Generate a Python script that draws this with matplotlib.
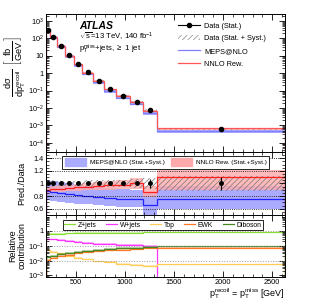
import numpy as np
import matplotlib
matplotlib.use('Agg')
import matplotlib.pyplot as plt
from matplotlib.lines import Line2D
from matplotlib.patches import Patch
from matplotlib.ticker import LogLocator, MultipleLocator, NullFormatter, FixedLocator

plt.rcParams['font.family'] = ['Liberation Sans', 'DejaVu Sans']
plt.rcParams['mathtext.fontset'] = 'custom'
plt.rcParams['mathtext.rm'] = 'Liberation Sans'
plt.rcParams['mathtext.it'] = 'Liberation Sans:italic'
plt.rcParams['mathtext.default'] = 'regular'
plt.rcParams['hatch.linewidth'] = 0.5

# bin edges of p_T^recoil [GeV]
edges = [200, 240, 310, 390, 480, 570, 680, 790, 910, 1050, 1190, 1330, 2630]
# measured cross section [fb/GeV]
xsec = [300, 125, 38, 11, 3.4, 1.1, 0.37, 0.12, 0.049, 0.023, 0.0078, 0.0006]
stat_rel = [0.005, 0.005, 0.006, 0.007, 0.008, 0.01, 0.012, 0.015, 0.02, 0.03, 0.07, 0.11]
syst_rel = [0.05, 0.05, 0.045, 0.045, 0.045, 0.05, 0.05, 0.055, 0.06, 0.07, 0.09, 0.12]

# predictions / data
meps_ratio = [0.88, 0.87, 0.85, 0.83, 0.81, 0.80, 0.79, 0.77, 0.76, 0.75, 0.66, 0.75]
meps_lo = [0.74, 0.73, 0.71, 0.69, 0.68, 0.67, 0.66, 0.64, 0.63, 0.62, 0.50, 0.60]
meps_hi = [1.05, 1.04, 1.02, 1.00, 0.97, 0.96, 0.95, 0.93, 0.92, 0.90, 0.86, 0.96]
nnlo_ratio = [0.90, 0.91, 0.92, 0.93, 0.94, 0.95, 0.96, 0.97, 0.98, 1.00, 0.86, 1.11]
nnlo_lo = [0.85, 0.86, 0.87, 0.88, 0.88, 0.89, 0.89, 0.90, 0.91, 0.92, 0.78, 0.90]
nnlo_hi = [0.95, 0.96, 0.97, 0.98, 0.99, 1.01, 1.02, 1.04, 1.06, 1.08, 0.96, 1.22]

# relative contributions
zjets = [0.62, 0.64, 0.66, 0.68, 0.70, 0.72, 0.74, 0.75, 0.76, 0.77, 0.78, 0.80]
wjets = [0.30, 0.27, 0.24, 0.21, 0.18, 0.16, 0.14, 0.13, 0.12, 0.11, 0.10]
top = [0.05, 0.04, 0.03, 0.02, 0.015, 0.012, 0.009, 0.008, 0.006, 0.005, 0.0045, 0.0055]
ewk = [0.011, 0.015, 0.02, 0.025, 0.03, 0.035, 0.042, 0.05, 0.055, 0.062, 0.068, 0.072]
diboson = [0.018, 0.022, 0.027, 0.032, 0.038, 0.045, 0.052, 0.06, 0.068, 0.075, 0.082, 0.09]

edges = np.array(edges)
xsec = np.array(xsec)
centers = 0.5 * (edges[:-1] + edges[1:])
C_BLUE_BAND = '#aaaaff'
C_RED_BAND = '#ffaaaa'

fig = plt.figure(figsize=(3.15, 3.02), dpi=100)
ax1 = fig.add_axes([0.146, 0.497, 0.759, 0.457])
ax2 = fig.add_axes([0.146, 0.288, 0.759, 0.209])
ax3 = fig.add_axes([0.146, 0.083, 0.759, 0.205])

fs = 5.3
fs_leg = 4.6


def band(ax, lo, hi, **kw):
    ax.stairs(hi, edges, baseline=lo, fill=True, **kw)


def style(ax):
    ax.set_xlim(edges[0], edges[-1])
    ax.xaxis.set_major_locator(FixedLocator([500, 1000, 1500, 2000, 2500]))
    ax.xaxis.set_minor_locator(MultipleLocator(100))
    ax.tick_params(which='both', direction='in', top=True, right=True, labelsize=fs, pad=1.5)
    ax.tick_params(which='major', length=4, width=0.6)
    ax.tick_params(which='minor', length=2, width=0.5)
    for s in ax.spines.values():
        s.set_linewidth(0.7)


# ---- top panel
band(ax1, xsec * np.array(meps_lo), xsec * np.array(meps_hi), color=C_BLUE_BAND, lw=0)
band(ax1, xsec * np.array(nnlo_lo), xsec * np.array(nnlo_hi), color=C_RED_BAND, lw=0, alpha=0.8)
band(ax1, xsec * (1 - np.array(syst_rel)), xsec * (1 + np.array(syst_rel)),
     facecolor='none', edgecolor='#888888', hatch='//////', lw=0)
ax1.stairs(xsec * np.array(meps_ratio), edges, color='#8080ff', lw=0.9)
ax1.stairs(xsec * np.array(nnlo_ratio), edges, color='#ff5555', lw=0.9)
ax1.errorbar(centers, xsec, yerr=xsec * np.array(stat_rel), fmt='o', color='black', ms=3, lw=0.8)
ax1.set_yscale('log')
ax1.set_ylim(3e-5, 2.5e3)
ax1.yaxis.set_minor_locator(LogLocator(base=10, subs=np.arange(2, 10), numticks=20))
ax1.yaxis.set_minor_formatter(NullFormatter())
style(ax1)
ax1.set_yticks([1e-4, 1e-3, 1e-2, 1e-1, 1, 10, 1e2, 1e3])
ax1.set_yticklabels(['$10^{-4}$', '$10^{-3}$', '$10^{-2}$', '$10^{-1}$', '1', '10', '$10^{2}$', '$10^{3}$'])
ax1.tick_params(labelbottom=False)
ax1.set_ylabel(r'$\frac{d\sigma}{dp_{T}^{recoil}}\ \left[\frac{fb}{GeV}\right]$', fontsize=9.5,
               labelpad=0, y=0.62)

ax1.text(0.14, 0.91, 'ATLAS', transform=ax1.transAxes, fontsize=7.5, weight='bold', style='italic', va='center')
ax1.text(0.14, 0.83, r'$\sqrt{s}$=13 TeV, 140 fb$^{-1}$', transform=ax1.transAxes, fontsize=fs + 0.3, va='center')
ax1.text(0.14, 0.74, r'p$_{T}^{miss}$+jets, $\geq$ 1 jet', transform=ax1.transAxes, fontsize=fs + 0.3, va='center')

h1 = [Line2D([], [], color='black', marker='o', ms=3, lw=0.8),
      Patch(facecolor='none', edgecolor='#888888', hatch='//////', lw=0),
      Line2D([], [], color='#8080ff', lw=0.9),
      Line2D([], [], color='#ff5555', lw=0.9)]
ax1.legend(h1, ['Data (Stat.)', 'Data (Stat. + Syst.)', 'MEPS@NLO', 'NNLO Rew.'],
           loc='upper left', bbox_to_anchor=(0.53, 0.975), frameon=False, fontsize=fs,
           handlelength=3.0, handletextpad=0.6, labelspacing=0.75, borderpad=0.2)

# ---- ratio panel
band(ax2, meps_lo, meps_hi, color=C_BLUE_BAND, lw=0)
band(ax2, nnlo_lo, nnlo_hi, color=C_RED_BAND, lw=0, alpha=0.8)
band(ax2, 1 - np.array(syst_rel), 1 + np.array(syst_rel),
     facecolor='none', edgecolor='#777777', hatch='//////', lw=0)
ax2.stairs(meps_ratio, edges, color='#2222ff', lw=0.9)
ax2.stairs(nnlo_ratio, edges, color='#ff2222', lw=0.9)
for yy in [0.6, 0.8, 1.2, 1.4]:
    ax2.axhline(yy, color='black', ls=':', lw=0.6)
ax2.errorbar(centers, np.ones(len(centers)), yerr=stat_rel, fmt='o', color='black', ms=2.5, lw=0.8)
ax2.set_ylim(0.5, 1.5)
ax2.set_yticks([0.6, 0.8, 1, 1.2, 1.4])
ax2.set_yticklabels(['0.6', '0.8', '1', '1.2', '1.4'])
ax2.yaxis.set_minor_locator(MultipleLocator(0.05))
style(ax2)
ax2.tick_params(labelbottom=False)
ax2.set_ylabel('Pred./Data', fontsize=6.5, labelpad=5)
h2 = [Patch(color=C_BLUE_BAND), Patch(color=C_RED_BAND)]
leg2 = ax2.legend(h2, ['MEPS@NLO (Stat.+Syst.)', 'NNLO Rew. (Stat.+Syst.)'], ncol=2,
                  loc='upper left', bbox_to_anchor=(0.055, 0.985), fontsize=fs_leg,
                  frameon=True, fancybox=False, edgecolor='black', framealpha=1,
                  handlelength=3.3, handleheight=1.6, columnspacing=0.9, handletextpad=0.7,
                  borderpad=0.35)
leg2.get_frame().set_linewidth(0.6)
leg2.set_zorder(10)

# ---- contribution panel
contribs = [('Z+jets', zjets, '#88dd33'), ('W+jets', wjets, '#ff33ff'),
            ('Top', top, '#ffcc55'), ('EWK', ewk, '#ff7722'), ('Diboson', diboson, '#448822')]
for name, vals, col in contribs:
    e = edges[:len(vals) + 1]
    v = np.array(vals)
    ax3.stairs(v * 1.12, e, baseline=v * 0.88, fill=True, color=col, alpha=0.35, lw=0)
    ax3.stairs(v, e, color=col, lw=0.9, label=name)
for yy in [1, 0.1, 0.01]:
    ax3.axhline(yy, color='#999999', ls=':', lw=0.7)
ax3.set_yscale('log')
ax3.set_ylim(8e-4, 11.5)
ax3.set_yticks([1e-3, 1e-2, 1e-1, 1])
ax3.set_yticklabels(['$10^{-3}$', '$10^{-2}$', '$10^{-1}$', '1'])
ax3.yaxis.set_minor_locator(LogLocator(base=10, subs=np.arange(2, 10), numticks=20))
ax3.yaxis.set_minor_formatter(NullFormatter())
style(ax3)
ax3.set_ylabel('Relative\ncontribution', fontsize=6.5, labelpad=1, linespacing=1.0)
h3 = [Line2D([], [], color=c, lw=0.9) for _, _, c in contribs]
leg3 = ax3.legend(h3, [n for n, _, _ in contribs], ncol=5, loc='upper left',
                  bbox_to_anchor=(0.055, 0.975), fontsize=fs_leg + 0.3, frameon=True, fancybox=False,
                  edgecolor='black', framealpha=1, handlelength=1.6, columnspacing=1.4,
                  handletextpad=0.4, borderpad=0.25)
leg3.get_frame().set_linewidth(0.6)
fig.text(0.905, 0.004, r'p$_{T}^{recoil}$ = p$_{T}^{miss}$ [GeV]', fontsize=6.5, ha='right', va='bottom')

fig.savefig('out.png', dpi=100)
